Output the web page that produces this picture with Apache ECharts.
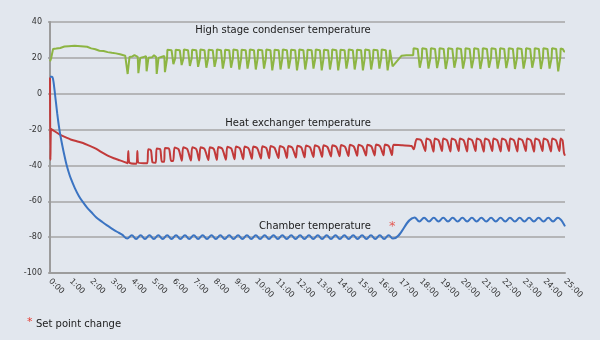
<!DOCTYPE html>
<html><head><meta charset="utf-8">
<script src="https://cdn.jsdelivr.net/npm/echarts/dist/echarts.min.js"></script>
<style>html,body{margin:0;padding:0;background:#e2e7ee;}#c{width:600px;height:340px;}</style>
</head><body><div id="c"></div>
<script>
const hourLabels = ['0:00','1:00','2:00','3:00','4:00','5:00','6:00','7:00','8:00','9:00','10:00','11:00','12:00','13:00','14:00','15:00','16:00','17:00','18:00','19:00','20:00','21:00','22:00','23:00','24:00','25:00'];
const seriesNames = ['High stage condenser temperature','Heat exchanger temperature','Chamber temperature'];
const footnote = 'Set point change';

// [hours, °C]
const condenserTemp = [
[0,18],[0.05,19.5],[0.15,25],[0.3,25.2],[0.5,25.5],[0.7,26.3],[0.9,26.5],[1.2,26.8],[1.5,26.5],[1.8,26.2],[2.0,25.3],[2.2,24.8],[2.4,24],[2.6,23.8],[2.8,23.2],[3.0,22.8],[3.2,22.5],[3.4,22],[3.65,21.2],
[3.74,21],[3.77,11],[3.83,11.5],[3.86,20.5],[4.0,20.8],[4.1,21.5],[4.26,20.5],[4.29,11.5],[4.35,12],[4.38,20],[4.5,20.3],[4.66,21],[4.69,12.5],[4.75,13],[4.78,20],[4.95,20.3],[5.05,21.5],[5.15,20.5],[5.18,11],[5.24,11.5],[5.27,20],[5.4,20.5],[5.55,21],[5.58,12],[5.64,12.5],[5.68,19.5],
[5.7,24.5],[5.9,24.3],[5.99,16.5],[6.08,19.8],
[6.1,24.5],[6.3,24.3],[6.39,16],[6.48,19.8],
[6.5,24.6],[6.7,24.3],[6.79,15.5],[6.88,19.8],
[6.9,24.5],[7.1,24.3],[7.19,15],[7.28,19.8],
[7.3,24.6],[7.5,24.3],[7.59,14.5],[7.68,19.8],
[7.7,24.5],[7.9,24.3],[7.99,15],[8.08,19.8],
[8.1,24.6],[8.3,24.3],[8.39,14],[8.48,19.8],
[8.5,24.5],[8.7,24.3],[8.79,14.5],[8.88,19.8],
[8.9,24.6],[9.1,24.3],[9.19,13.5],[9.28,19.8],
[9.3,24.5],[9.5,24.3],[9.59,14],[9.68,19.8],
[9.7,24.6],[9.9,24.3],[9.99,13.5],[10.08,19.8],
[10.1,24.5],[10.3,24.3],[10.39,14],[10.48,19.8],
[10.5,24.6],[10.7,24.3],[10.79,13],[10.88,19.8],
[10.9,24.5],[11.1,24.3],[11.19,13.5],[11.28,19.8],
[11.3,24.6],[11.5,24.3],[11.59,14],[11.68,19.8],
[11.7,24.5],[11.9,24.3],[11.99,13],[12.08,19.8],
[12.1,24.6],[12.3,24.3],[12.39,13.5],[12.48,19.8],
[12.5,24.5],[12.7,24.3],[12.79,14],[12.88,19.8],
[12.9,24.6],[13.1,24.3],[13.19,13],[13.28,19.8],
[13.3,24.5],[13.5,24.3],[13.59,13.5],[13.68,19.8],
[13.7,24.6],[13.9,24.3],[13.99,13],[14.08,19.8],
[14.1,24.5],[14.3,24.3],[14.39,14],[14.48,19.8],
[14.5,24.6],[14.7,24.3],[14.79,13.5],[14.88,19.8],
[14.9,24.5],[15.1,24.3],[15.19,13],[15.28,19.8],
[15.3,24.6],[15.5,24.3],[15.59,13.5],[15.68,19.8],
[15.7,24.5],[15.9,24.3],[15.99,14],[16.08,19.8],
[16.1,24.6],[16.3,24.3],[16.39,13],[16.48,19.8],
[16.5,24.5],[16.56,24.2],[16.63,15.2],[17.07,21.2],[17.3,21.5],[17.63,21.5],
[17.65,25.3],[17.85,25],[17.95,14.5],[18.05,20],
[18.07,25.3],[18.27,25],[18.37,14],[18.47,20],
[18.49,25.3],[18.69,25],[18.79,14.3],[18.89,20],
[18.91,25.3],[19.11,25],[19.21,13.8],[19.31,20],
[19.33,25.3],[19.53,25],[19.63,14.5],[19.73,20],
[19.75,25.3],[19.95,25],[20.05,14],[20.15,20],
[20.17,25.3],[20.37,25],[20.47,14.2],[20.57,20],
[20.59,25.3],[20.79,25],[20.89,13.8],[20.99,20],
[21.01,25.3],[21.21,25],[21.31,14.5],[21.41,20],
[21.43,25.3],[21.63,25],[21.73,14],[21.83,20],
[21.85,25.3],[22.05,25],[22.15,14.3],[22.25,20],
[22.27,25.3],[22.47,25],[22.57,13.8],[22.67,20],
[22.69,25.3],[22.89,25],[22.99,14],[23.09,20],
[23.11,25.3],[23.31,25],[23.41,14.5],[23.51,20],
[23.53,25.3],[23.73,25],[23.83,13.8],[23.93,20],
[23.95,25.3],[24.15,25],[24.25,14],[24.35,20],
[24.37,25.3],[24.57,25],[24.67,12.5],[24.77,20],
[24.79,25.3],[24.9,24.8],[24.95,23.6],[25,23.6]
];

const exchangerTemp = [
[0,9],[0.02,-37],[0.05,-19.5],[0.1,-20],[0.3,-21.5],[0.5,-23],[0.8,-24.5],[1.0,-25.5],[1.3,-26.5],[1.6,-27.5],[1.9,-29],[2.2,-30.5],[2.5,-32.6],[2.8,-34.5],[3.1,-36],[3.4,-37.2],[3.72,-38.5],
[3.77,-38.8],[3.8,-32],[3.86,-38.5],[4.2,-39],[4.24,-32],[4.3,-38.5],
[4.72,-38.8],[4.77,-31],[4.9,-31.5],[4.98,-38.3],
[5.13,-38.5],[5.18,-30.5],[5.35,-31],[5.43,-38],
[5.54,-38],[5.58,-30.3],[5.78,-30.8],[5.88,-37.5],
[5.98,-37.5],[6.05,-30],[6.24,-31],
[6.4,-37.4],[6.47,-29.9],[6.66,-30.9],
[6.84,-37.3],[6.91,-29.9],[7.1,-30.9],
[7.24,-37.2],[7.31,-29.8],[7.5,-30.8],
[7.69,-37],[7.76,-29.8],[7.95,-30.8],
[8.1,-36.9],[8.17,-29.7],[8.36,-30.7],
[8.54,-36.8],[8.61,-29.6],[8.8,-30.6],
[8.96,-36.6],[9.03,-29.5],[9.22,-30.5],
[9.38,-36.5],[9.45,-29.5],[9.64,-30.5],
[9.8,-36.3],[9.87,-29.4],[10.06,-30.4],
[10.24,-36.2],[10.31,-29.3],[10.5,-30.3],
[10.64,-36],[10.71,-29.2],[10.9,-30.2],
[11.09,-35.9],[11.16,-29.2],[11.35,-30.2],
[11.5,-35.8],[11.57,-29.1],[11.76,-30.1],
[11.94,-35.6],[12.01,-29],[12.2,-30],
[12.36,-35.5],[12.43,-28.9],[12.62,-29.9],
[12.79,-35.3],[12.86,-28.8],[13.05,-29.8],
[13.21,-35.2],[13.28,-28.8],[13.47,-29.8],
[13.64,-35],[13.71,-28.7],[13.9,-29.7],
[14.06,-34.9],[14.13,-28.6],[14.32,-29.6],
[14.49,-34.8],[14.56,-28.5],[14.75,-29.5],
[14.91,-34.6],[14.98,-28.5],[15.17,-29.5],
[15.34,-34.5],[15.41,-28.4],[15.6,-29.4],
[15.76,-34.4],[15.83,-28.3],[16.02,-29.3],
[16.19,-34.3],[16.26,-28.3],[16.45,-29.3],
[16.6,-34.2],[16.68,-28.5],[17.1,-28.8],[17.55,-29.2],[17.66,-31],[17.8,-25.3],[18.02,-26],
[18.22,-32],[18.28,-25],[18.46,-26],
[18.62,-32.3],[18.68,-25],[18.86,-26],
[19.03,-32],[19.09,-25],[19.27,-26],
[19.44,-32.3],[19.5,-25],[19.68,-26],
[19.84,-32],[19.9,-25],[20.08,-26],
[20.25,-32.3],[20.31,-25],[20.49,-26],
[20.66,-32],[20.72,-25],[20.9,-26],
[21.06,-32.3],[21.12,-25],[21.3,-26],
[21.47,-32],[21.53,-25],[21.71,-26],
[21.88,-32.3],[21.94,-25],[22.12,-26],
[22.28,-32],[22.34,-25],[22.52,-26],
[22.69,-32.3],[22.75,-25],[22.93,-26],
[23.1,-32],[23.16,-25],[23.34,-26],
[23.5,-32.3],[23.56,-25],[23.74,-26],
[23.91,-32],[23.97,-25],[24.15,-26],
[24.32,-32.3],[24.38,-25],[24.56,-26],
[24.73,-32],[24.79,-25],[24.88,-26],[24.95,-33],[25,-34.5]
];

const chamberTemp = [
[0,9.5],[0.1,9.5],[0.15,8],[0.2,4],[0.25,-1],[0.3,-6],[0.35,-11],[0.4,-15.5],[0.45,-19.5],[0.5,-23],[0.6,-29],[0.7,-34.5],[0.8,-39.5],[0.9,-43.5],[1.0,-47],[1.2,-52.5],[1.4,-57],[1.6,-60.5],[1.8,-63.5],[2.0,-66],[2.25,-69],[2.5,-71.2],[2.75,-73.3],[3.0,-75.2],[3.25,-77],[3.5,-78.6],[3.75,-80.8],
[3.97,-79],[4.18,-81],[4.4,-79],[4.61,-81],[4.83,-79],[5.04,-81],[5.26,-79],[5.47,-81],[5.69,-79],[5.9,-81],[6.12,-79],[6.33,-81],[6.55,-79],[6.76,-81],[6.98,-79],[7.19,-81],[7.41,-79],[7.62,-81],[7.84,-79],[8.05,-81],[8.27,-79],[8.48,-81],[8.7,-79],[8.91,-81],[9.13,-79],[9.34,-81],[9.56,-79],[9.77,-81],[9.99,-79],[10.2,-81],[10.42,-79],[10.63,-81],[10.85,-79],[11.06,-81],[11.28,-79],[11.49,-81],[11.71,-79],[11.92,-81],[12.14,-79],[12.35,-81],[12.57,-79],[12.78,-81],[13.0,-79],[13.21,-81],[13.43,-79],[13.64,-81],[13.86,-79],[14.07,-81],[14.29,-79],[14.5,-81],[14.72,-79],[14.93,-81],[15.15,-79],[15.36,-81],[15.58,-79],[15.79,-81],[16.01,-79],[16.22,-81],[16.44,-79],[16.65,-80.8],
[17.7,-69],
[17.93,-71.3],[18.16,-69.2],[18.4,-71.3],[18.63,-69.2],[18.86,-71.3],[19.09,-69.2],[19.32,-71.3],[19.55,-69.2],[19.79,-71.3],[20.02,-69.2],[20.25,-71.3],[20.48,-69.2],[20.71,-71.3],[20.94,-69.2],[21.18,-71.3],[21.41,-69.2],[21.64,-71.3],[21.87,-69.2],[22.1,-71.3],[22.33,-69.2],[22.57,-71.3],[22.8,-69.2],[23.03,-71.3],[23.26,-69.2],[23.49,-71.3],[23.72,-69.2],[23.96,-71.3],[24.19,-69.2],[24.42,-71.3],[24.65,-69.2],[24.8,-70.3],[24.9,-72],[25,-74]
];

const setPointChange = [[16.62, -74]];

const chart = echarts.init(document.getElementById('c'), null, {renderer: 'canvas'});
const FONT = '"DejaVu Sans", sans-serif';
const lineSeries = (name, data, color, smooth) => ({
  name, type: 'line', data, showSymbol: false, symbol: 'none', smooth: smooth || false,
  lineStyle: {color, width: 2}, itemStyle: {color}, z: 3
});
chart.setOption({
  animation: false,
  backgroundColor: '#e2e7ee',
  grid: {left: 50, right: 35, top: 22, bottom: 67, containLabel: false},
  xAxis: {
    type: 'value', min: 0, max: 25, interval: 1,
    axisLine: {show: true, onZero: false, lineStyle: {color: '#9c9c9c', width: 2}},
    axisTick: {show: false}, splitLine: {show: false},
    axisLabel: {rotate: -45, fontSize: 8, color: '#333', margin: 7, fontFamily: FONT,
      formatter: v => hourLabels[Math.round(v)]}
  },
  yAxis: {
    type: 'value', min: -100, max: 40, interval: 20,
    axisLine: {show: true, lineStyle: {color: '#9c9c9c', width: 2}},
    axisTick: {show: true, length: 2, lineStyle: {color: '#9c9c9c', width: 1.5}},
    splitLine: {show: true, lineStyle: {color: '#a6a6a6', width: 1.5}},
    axisLabel: {fontSize: 8, color: '#333', margin: 8, fontFamily: FONT}
  },
  series: [
    lineSeries(seriesNames[0], condenserTemp, '#8db543'),
    lineSeries(seriesNames[1], exchangerTemp, '#c23a3a', 0.25),
    lineSeries(seriesNames[2], chamberTemp, '#3b74c2', 0.4),
    {type: 'scatter', data: setPointChange, symbolSize: 0, z: 5,
      label: {show: true, position: 'inside', formatter: '*', color: '#e53a30', fontSize: 13, fontFamily: FONT}}
  ],
  graphic: [
    {type: 'text', x: 283, y: 30, style: {text: seriesNames[0], fill: '#1a1a1a', font: '10px ' + FONT, textAlign: 'center', textVerticalAlign: 'middle', align: 'center', verticalAlign: 'middle'}},
    {type: 'text', x: 298, y: 123.5, style: {text: seriesNames[1], fill: '#1a1a1a', font: '10px ' + FONT, textAlign: 'center', textVerticalAlign: 'middle', align: 'center', verticalAlign: 'middle'}},
    {type: 'text', x: 315, y: 226, style: {text: seriesNames[2], fill: '#1a1a1a', font: '10px ' + FONT, textAlign: 'center', textVerticalAlign: 'middle', align: 'center', verticalAlign: 'middle'}},
    {type: 'text', x: 27, y: 322, style: {text: '*', fill: '#e53a30', font: '11px ' + FONT, textAlign: 'left', textVerticalAlign: 'middle', align: 'left', verticalAlign: 'middle'}},
    {type: 'text', x: 36, y: 324, style: {text: footnote, fill: '#1a1a1a', font: '10px ' + FONT, textAlign: 'left', textVerticalAlign: 'middle', align: 'left', verticalAlign: 'middle'}}
  ]
});
</script>
</body></html>
